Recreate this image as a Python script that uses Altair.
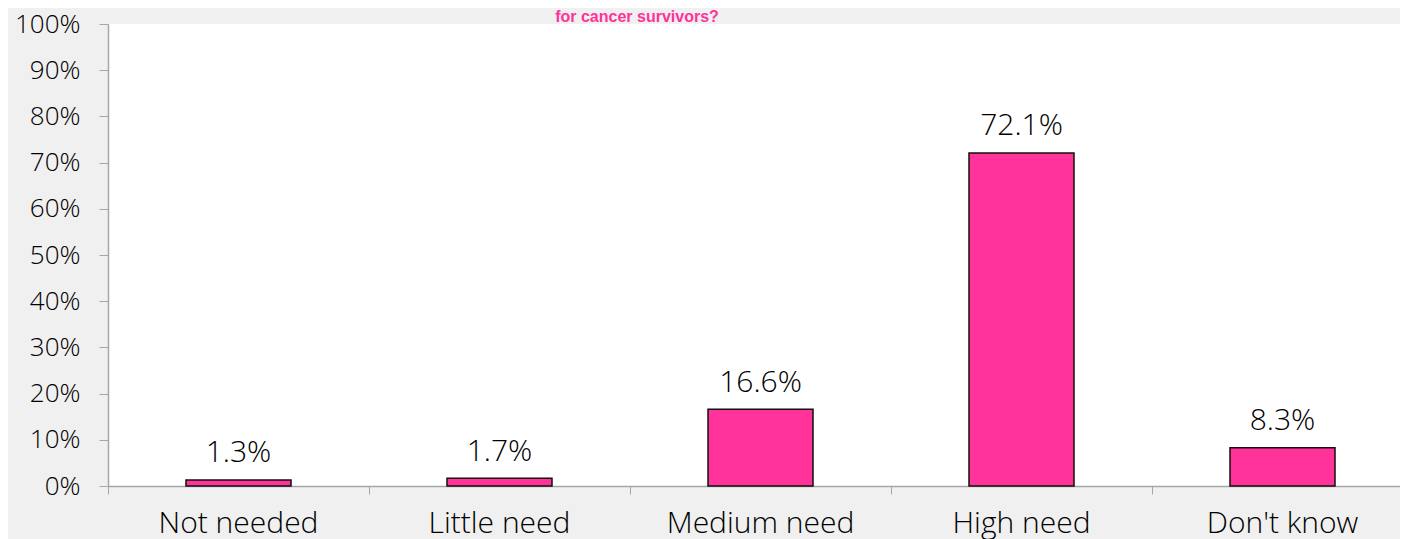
import altair as alt
import pandas as pd

categories = ["Not needed", "Little need", "Medium need", "High need", "Don't know"]
values = [1.3, 1.7, 16.6, 72.1, 8.3]
title_text = "for cancer survivors?"

df = pd.DataFrame({
    "category": categories,
    "value": values,
    "label": [f"{v:.1f}%" for v in values],
})

FONT = "Open Sans"
TXT = "#000000"
AX = "#a6a6a6"

x = alt.X("category:N", sort=categories, title=None,
          scale=alt.Scale(paddingInner=0, paddingOuter=0, range=[0, 1305]),
          axis=alt.Axis(labelAngle=0, bandPosition=0, tickSize=8, labelPadding=38,
                        labelBaseline="alphabetic", labelLimit=400,
                        labelFontSize=30, labelFont=FONT, labelFontWeight=300,
                        labelColor=TXT,
                        domainColor=AX, tickColor=AX, domainWidth=1.5, grid=False))
y = alt.Y("value:Q", title=None,
          scale=alt.Scale(domain=[0, 100], nice=False),
          axis=alt.Axis(values=list(range(0, 101, 10)), labelExpr="datum.value + '%'",
                        tickSize=9, labelPadding=19, labelFontSize=26, labelFont=FONT,
                        labelFontWeight=300, labelBaseline="middle",
                        labelColor=TXT, domainColor=AX, tickColor=AX, domainWidth=1.5,
                        grid=False))

bars = alt.Chart(df).mark_bar(width=105, color="#FF3399", stroke="#111111",
                              strokeWidth=1.5).encode(x=x, y=y)

labels = alt.Chart(df).mark_text(baseline="alphabetic", dy=-17.5, fontSize=30,
                                 font=FONT, fontWeight=300, color=TXT).encode(
    x=alt.X("category:N", sort=categories), y="value:Q", text="label:N")

title = alt.Chart(pd.DataFrame({"t": [title_text]})).mark_text(
    fontSize=16, fontWeight="bold", font="Liberation Sans", color="#FF3399",
    baseline="alphabetic", align="center").encode(
    x=alt.value(529), y=alt.value(-2), text="t:N")

chart = alt.layer(bars, labels, title).properties(
    width=1292, height=462,
    autosize=alt.AutoSizeParams(type="none"),
    padding={"left": 100, "top": 16, "right": 0, "bottom": 60},
    background="#f0f0f0",
).configure_view(fill="white", strokeWidth=0)

chart.save("out.html", embed_options={"renderer": "svg", "actions": False})
